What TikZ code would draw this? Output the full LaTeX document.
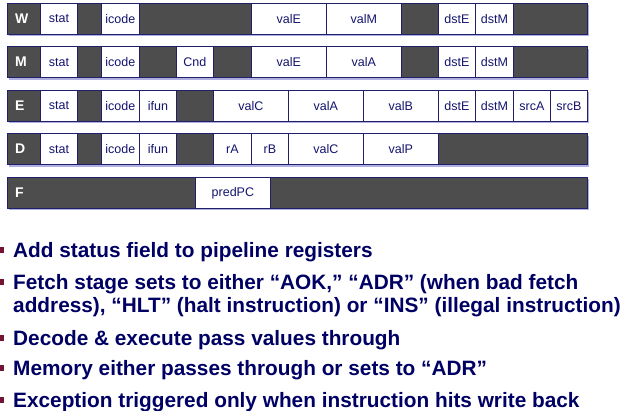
\documentclass[tikz,border=0pt]{standalone}
\usepackage{fontspec}
\setmainfont{Liberation Sans}
\usetikzlibrary{shadows}
\definecolor{regline}{RGB}{32,32,105}
\definecolor{regdark}{RGB}{77,77,77}
\definecolor{regshadow}{RGB}{175,175,225}
\definecolor{cellink}{RGB}{20,20,110}
\definecolor{bulletink}{RGB}{0,0,100}
\definecolor{bulletred}{RGB}{115,20,50}
% one field of a pipeline register: name, left x, right x, top y, text
\newcommand\regfield[5]{\node[fieldbox, minimum width={#3pt-#2pt}] (#1) at (#2,#4) {#5};}
% a whole pipeline register: name, top y, stage letter
\newcommand\pipereg[3]{%
  \node[regbox] (#1) at (7,#2) {};
  \node[stagelabel] (#1-label) at (15,#2+15.5) {#3};}
\begin{document}
\begin{tikzpicture}[x=1pt,y=-1pt,
  regbox/.style={draw=regline, line width=1pt, fill=regdark, anchor=north west,
    minimum width=580pt, minimum height=31pt, inner sep=0pt,
    drop shadow={shadow xshift=1.6pt, shadow yshift=-1.6pt, fill=regshadow, opacity=1}},
  fieldbox/.style={draw=regline, line width=0.8pt, fill=white, anchor=north west,
    minimum height=31pt, inner sep=0pt, text=cellink, font=\fontsize{12.5}{14}\selectfont},
  stagelabel/.style={anchor=west, inner sep=0pt, text=white, font=\bfseries\fontsize{14}{16}\selectfont},
  bullettext/.style={anchor=base west, inner sep=0pt, text=bulletink, font=\bfseries\fontsize{20.8}{23}\selectfont},
  bulletmark/.style={fill=bulletred, inner sep=0pt, minimum width=4.5pt, minimum height=6pt}]
\useasboundingbox (0,0) rectangle (624,411);

% W register
\pipereg{W}{3}{W}
\regfield{w-stat}{40}{77}{3}{stat}
\regfield{w-icode}{101}{139}{3}{icode}
\regfield{w-valE}{251}{326}{3}{valE}
\regfield{w-valM}{326}{401}{3}{valM}
\regfield{w-dstE}{438}{475}{3}{dstE}
\regfield{w-dstM}{475}{513}{3}{dstM}

% M register
\pipereg{M}{46.5}{M}
\regfield{m-stat}{40}{77}{46.5}{stat}
\regfield{m-icode}{101}{139}{46.5}{icode}
\regfield{m-Cnd}{176}{213}{46.5}{Cnd}
\regfield{m-valE}{251}{326}{46.5}{valE}
\regfield{m-valA}{326}{401}{46.5}{valA}
\regfield{m-dstE}{438}{475}{46.5}{dstE}
\regfield{m-dstM}{475}{513}{46.5}{dstM}

% E register
\pipereg{E}{90}{E}
\regfield{e-stat}{40}{77}{90}{stat}
\regfield{e-icode}{101}{139}{90}{icode}
\regfield{e-ifun}{139}{176}{90}{ifun}
\regfield{e-valC}{213}{288}{90}{valC}
\regfield{e-valA}{288}{363}{90}{valA}
\regfield{e-valB}{363}{438}{90}{valB}
\regfield{e-dstE}{438}{475}{90}{dstE}
\regfield{e-dstM}{475}{513}{90}{dstM}
\regfield{e-srcA}{513}{550}{90}{srcA}
\regfield{e-srcB}{550}{587}{90}{srcB}

% D register
\pipereg{D}{133.5}{D}
\regfield{d-stat}{40}{77}{133.5}{stat}
\regfield{d-icode}{101}{139}{133.5}{icode}
\regfield{d-ifun}{139}{176}{133.5}{ifun}
\regfield{d-rA}{213}{251}{133.5}{rA}
\regfield{d-rB}{251}{288}{133.5}{rB}
\regfield{d-valC}{288}{363}{133.5}{valC}
\regfield{d-valP}{363}{438}{133.5}{valP}

% F register
\pipereg{F}{177}{F}
\regfield{f-predPC}{195}{270}{177}{predPC}

% notes on the status field
\node[bulletmark] (m1) at (1.8,250.5) {};
\node[bullettext] (t1) at (13,257.5) {Add status field to pipeline registers};
\node[bulletmark] (m2) at (1.8,282.5) {};
\node[bullettext] (t2) at (13,289.5) {Fetch stage sets to either “AOK,” “ADR” (when bad fetch};
\node[bullettext] (t2b) at (13,312.5) {address), “HLT” (halt instruction) or “INS” (illegal instruction)};
\node[bulletmark] (m3) at (1.8,338.5) {};
\node[bullettext] (t3) at (13,345.5) {Decode \& execute pass values through};
\node[bulletmark] (m4) at (1.8,368.5) {};
\node[bullettext] (t4) at (13,375.5) {Memory either passes through or sets to “ADR”};
\node[bulletmark] (m5) at (1.8,400.5) {};
\node[bullettext] (t5) at (13,407.5) {Exception triggered only when instruction hits write back};
\end{tikzpicture}
\end{document}
